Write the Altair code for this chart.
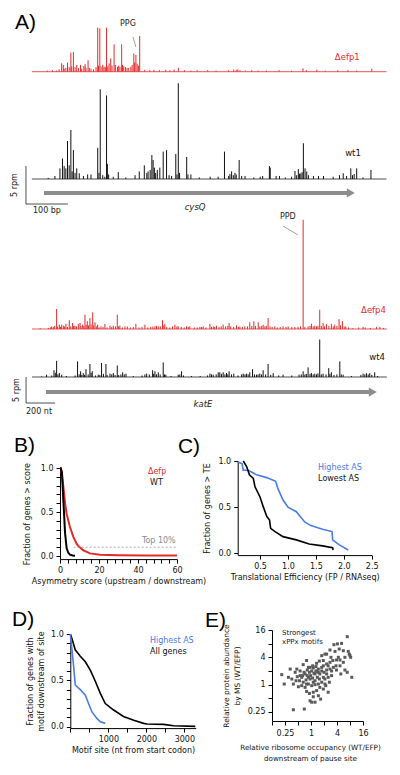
import altair as alt
import pandas as pd

FONT = "DejaVu Sans"
LETTER_FONT = "Liberation Sans"
RED = "#e32b2b"
BLUE = "#4a7be6"
GRAY = "#8d8d8d"
DOT = "#5a5a5a"

# ---------------- Panel A: ribosome density (position nt, rpm) ----------------
efp1 = [(8,0.15),(20,0.2),(30,0.15),(36,0.3),(42,1.1),(46,0.9),(48,0.4),(52,0.5),(56,1.2),(60,0.6),
        (64,2.5),(66,0.7),(70,2.6),(74,0.6),(78,0.9),(82,0.5),(87,0.9),(90,0.4),(95,0.75),(98,1.0),
        (100,0.5),(105,1.5),(108,0.5),(112,0.4),(118,0.3),(124,0.6),(128,5.8),(130,0.8),(133,5.7),(136,0.7),
        (140,0.9),(143,0.65),(146,0.6),(149,5.8),(152,0.7),(155,1.1),(159,1.75),(162,0.8),(167,3.6),(170,0.9),
        (175,0.65),(178,0.8),(181,0.65),(185,3.6),(187,0.9),(190,0.7),(194,0.6),(198,0.5),(202,0.5),(207,0.65),
        (210,0.9),(214,2.4),(216,1.2),(219,2.2),(222,1.05),(225,0.8),(228,4.7),(240,0.25),(252,0.2),(262,0.25),
        (275,0.2),(290,0.25),(300,0.2),(310,0.3),(320,0.5),(335,0.2),(350,0.15),(365,0.2),(390,0.2),(410,0.15),
        (440,0.2),(452,0.3),(458,0.25),(462,0.3),(467,0.2),(480,0.15),(495,0.2),(510,0.15),(530,0.15),(560,0.2),
        (590,0.15),(617,0.45),(625,0.2),(650,0.25),(670,0.15),(700,0.2),(724,0.2),(745,0.15),(781,0.4)]
wt1 = [(10,0.15),(26,0.4),(38,1.4),(44,2.7),(48,1.7),(52,1.4),(56,5.0),(60,1.8),(64,6.45),(67,1.0),
       (70,3.8),(74,0.8),(78,1.4),(84,0.75),(94,0.4),(104,0.6),(112,0.6),(128,4.1),(131,0.8),(134,11.8),
       (140,0.5),(145,0.3),(149,11.0),(151,2.0),(154,0.6),(165,0.3),(177,0.9),(195,0.2),(217,0.5),(227,1.0),
       (239,1.8),(245,0.8),(248,1.0),(253,1.2),(257,3.15),(260,2.5),(263,1.5),(266,0.8),(270,1.2),(276,1.5),
       (284,3.6),(292,3.8),(298,0.5),(304,0.4),(314,3.3),(317,0.6),(320,12.6),(323,0.8),(340,2.9),(343,0.6),
       (350,0.6),(370,0.2),(396,0.3),(415,0.3),(430,3.6),(440,0.4),(443,0.65),(447,1.0),(451,0.5),(455,0.8),
       (458,0.6),(465,2.5),(471,0.4),(479,0.4),(500,0.2),(515,0.3),(521,0.4),(537,1.7),(539,1.5),(553,0.4),
       (561,0.4),(575,0.2),(590,0.3),(598,1.05),(602,0.5),(606,1.3),(609,0.7),(612,0.75),(615,0.9),(618,4.7),
       (622,1.4),(626,1.0),(630,0.5),(642,0.4),(654,0.4),(666,0.4),(689,0.3),(704,0.5),(713,0.75),(721,0.4),
       (731,1.4),(735,0.5),(739,0.65),(745,1.4),(760,0.2),(779,1.2)]
efp4 = [(-40,0.15),(16,0.2),(30,0.3),(39,0.5),(50,0.4),(60,0.6),(73,3.85),(80,0.5),(92,0.83),(100,0.4),
        (108,0.83),(119,0.64),(128,0.5),(137,1.0),(148,0.4),(160,1.7),(170,0.5),(183,1.15),(190,0.6),(199,0.64),
        (210,0.5),(222,1.0),(234,1.15),(240,0.6),(252,0.83),(260,0.6),(268,2.75),(276,0.8),(284,1.5),(292,0.7),
        (302,2.1),(310,0.9),(321,3.2),(328,0.7),(337,1.3),(346,0.5),(355,0.83),(365,0.3),(378,0.5),(392,0.4),
        (405,0.96),(420,0.3),(440,0.64),(452,0.4),(463,0.64),(478,0.5),(490,2.75),(499,0.5),(508,0.64),(525,0.3),
        (543,0.5),(559,0.5),(580,0.3),(600,0.4),(618,1.0),(640,0.3),(660,0.4),(680,0.83),(700,0.3),(720,0.4),
        (735,0.5),(749,0.5),(760,0.6),(772,0.5),(786,0.5),(801,1.7),(810,0.7),(817,1.0),(830,0.4),(850,0.3),
        (870,0.5),(886,0.83),(900,0.5),(909,0.5),(930,0.4),(950,0.3),(966,0.5),(978,0.4),(989,0.5),(1020,0.3),
        (1040,0.3),(1058,0.4),(1070,0.4),(1081,0.5),(1100,0.3),(1127,1.0),(1138,0.4),(1150,0.5),(1160,0.4),(1172,0.64),
        (1190,0.4),(1205,0.5),(1218,0.83),(1235,0.5),(1250,0.6),(1259,1.15),(1270,0.5),(1290,0.4),(1310,0.7),(1322,0.4),
        (1333,0.5),(1350,0.4),(1367,0.5),(1385,0.5),(1401,1.3),(1415,0.6),(1429,1.5),(1440,0.6),(1459,1.3),(1470,0.5),
        (1483,0.6),(1493,0.83),(1505,0.5),(1515,0.6),(1527,2.1),(1540,0.5),(1555,0.4),(1573,0.5),(1590,0.3),(1610,0.4),
        (1630,0.5),(1650,0.4),(1665,0.5),(1690,0.4),(1711,0.4),(1733,0.4),(1750,0.5),(1768,21.0),(1780,0.4),(1802,0.5),
        (1815,0.6),(1825,1.0),(1837,0.5),(1848,0.64),(1860,0.5),(1870,0.6),(1882,3.7),(1893,0.6),(1905,1.15),(1915,0.5),
        (1928,0.96),(1945,0.6),(1962,1.0),(1975,0.5),(1985,0.83),(2000,0.6),(2015,1.9),(2025,0.7),(2038,1.5),(2050,0.5),
        (2061,0.5),(2080,0.3),(2110,0.2),(2150,0.3),(2180,0.4),(2195,0.3),(2230,0.2),(2272,0.4),(2295,0.4),(2320,0.2)]
wt4 = [(-30,0.1),(4,0.45),(40,0.3),(55,1.3),(64,0.8),(73,3.1),(82,0.5),(92,0.75),(108,0.45),(140,0.2),
       (200,0.3),(217,3.0),(228,0.5),(238,1.1),(246,0.4),(256,0.75),(265,0.4),(275,1.5),(290,0.5),(302,2.5),
       (310,0.8),(318,1.1),(340,0.3),(359,0.45),(370,0.4),(382,2.7),(395,0.6),(412,2.5),(420,0.4),(440,0.65),
       (452,0.5),(463,0.75),(475,0.4),(490,2.2),(500,0.4),(515,0.5),(527,0.9),(538,0.5),(550,0.65),(600,0.2),
       (660,0.3),(680,0.5),(692,0.65),(710,0.5),(733,1.3),(740,0.6),(749,1.1),(760,0.5),(772,0.9),(785,0.5),
       (806,2.8),(815,0.5),(824,0.45),(860,0.2),(909,0.45),(920,0.5),(932,1.1),(945,0.3),(1000,0.2),(1060,0.2),
       (1110,0.3),(1127,0.65),(1138,0.5),(1150,0.45),(1170,0.5),(1184,0.9),(1195,0.9),(1206,0.6),(1218,0.9),(1230,0.5),
       (1241,0.75),(1250,0.5),(1259,1.1),(1275,0.5),(1291,0.65),(1320,0.3),(1345,0.5),(1356,0.65),(1368,0.5),(1379,0.65),
       (1390,0.5),(1401,0.9),(1420,1.5),(1433,0.5),(1447,0.45),(1458,0.5),(1470,0.65),(1482,0.5),(1493,1.3),(1510,0.5),
       (1527,2.5),(1545,0.4),(1562,0.75),(1600,0.3),(1630,0.45),(1690,0.3),(1740,0.45),(1755,0.5),(1768,1.1),(1780,0.5),
       (1790,0.6),(1802,1.85),(1815,0.6),(1825,0.75),(1837,0.5),(1848,0.65),(1860,0.5),(1870,0.7),(1882,7.2),(1893,0.5),
       (1905,0.65),(1925,0.5),(1944,1.7),(1952,0.6),(1962,0.9),(1980,0.4),(2000,0.5),(2020,3.0),(2030,0.5),(2043,0.45),
       (2100,0.2),(2165,0.4),(2180,0.65),(2192,0.5),(2203,0.75),(2215,0.5),(2226,0.75),(2240,0.4),(2260,0.9),(2280,0.2)]
CYSQ_LEN = 741
KATE_LEN = 2262

# ---------------- Panel B: asymmetry score ----------------
b_efp_x = [0, 0.5, 1.0, 1.7, 2.6, 3.4, 5.1, 6.8, 8.5, 9.5, 12, 15.4, 20.5, 30, 45, 60]
b_efp_y = [1.0, 1.0, 0.93, 0.79, 0.6, 0.48, 0.33, 0.22, 0.14, 0.11, 0.065, 0.03, 0.015, 0.01, 0.007, 0.005]
b_wt_x = [0, 0.4, 1.0, 1.7, 2.6, 3.4, 4.2, 5.1, 6.5, 7.7]
b_wt_y = [1.0, 0.99, 0.95, 0.64, 0.26, 0.09, 0.04, 0.015, 0.006, 0.004]

# ---------------- Panel C: translational efficiency ----------------
c_high_x = [0.1, 0.18, 0.2, 0.29, 0.44, 0.62, 0.78, 0.82, 0.91, 1.0, 1.15, 1.3, 1.41, 1.62, 1.79, 1.8, 1.92, 2.08]
c_high_y = [0.99, 0.97, 0.9, 0.9, 0.85, 0.82, 0.78, 0.70, 0.58, 0.5, 0.45, 0.34, 0.3, 0.26, 0.235, 0.145, 0.09, 0.036]
c_low_x = [0.2, 0.26, 0.31, 0.38, 0.41, 0.5, 0.56, 0.62, 0.67, 0.69, 0.77, 0.91, 1.15, 1.38, 1.62, 1.8, 1.81]
c_low_y = [1.0, 0.94, 0.85, 0.81, 0.72, 0.61, 0.5, 0.4, 0.36, 0.27, 0.235, 0.18, 0.145, 0.1, 0.08, 0.06, 0.036]

# ---------------- Panel D: motif site ----------------
d_all_x = [0, 44, 130, 263, 395, 526, 658, 790, 920, 1140, 1400, 1670, 1930, 2017, 2456, 2720, 3290]
d_all_y = [1.0, 0.95, 0.83, 0.76, 0.7, 0.61, 0.49, 0.36, 0.25, 0.18, 0.11, 0.07, 0.036, 0.029, 0.025, 0.011, 0.004]
d_high_x = [0, 44, 88, 130, 263, 395, 480, 570, 700, 790, 920]
d_high_y = [1.0, 0.83, 0.65, 0.45, 0.40, 0.34, 0.25, 0.16, 0.09, 0.054, 0.036]

# ---------------- Panel E: occupancy vs protein abundance ----------------
e_points = [(6.9,11.4),(5.1,8.1),(4.1,7.9),(3.4,7.6),(2.75,5.8),(2.3,4.7),(2.1,4.7),(1.77,4.35),(3.6,5.4),(4.3,4.0),
            (3.9,3.5),(4.7,3.5),(3.2,3.4),(2.75,3.1),(2.3,2.85),(1.93,2.6),(1.56,3.3),(1.35,2.95),(0.66,2.76),(0.79,3.4),
            (0.95,2.4),(1.13,2.33),(7.3,5.4),(7.7,4.7),(8.0,4.35),(8.3,4.0),(6.1,2.1),(6.9,1.87),(8.8,1.45),(4.9,1.72),
            (3.8,2.6),(3.3,2.4),(2.75,2.2),(2.3,2.1),(2.0,1.87),(1.77,2.0),(1.6,1.72),(1.48,2.2),(1.3,1.97),(1.17,1.78),
            (1.04,2.0),(0.92,1.87),(0.82,2.1),(0.73,1.72),(0.64,1.58),(0.56,2.0),(0.47,2.2),(0.33,2.2),(0.21,1.66),(0.24,1.03),
            (0.36,1.33),(0.39,1.03),(0.43,1.87),(0.48,1.5),(0.54,1.22),(0.61,0.95),(0.66,1.13),(0.77,1.27),(0.87,1.45),(0.98,1.58),
            (1.09,1.4),(1.24,1.22),(1.4,1.45),(1.56,1.33),(1.77,1.13),(2.1,1.33),(2.5,1.45),(3.0,1.58),(2.66,1.13),(2.2,0.95),
            (2.5,0.68),(1.93,0.8),(1.6,0.87),(1.35,0.74),(1.13,0.68),(0.92,0.64),(0.79,0.71),(0.73,0.87),(0.95,0.44),(1.04,0.41),
            (1.24,0.41),(1.48,0.57),(1.67,0.48),(1.13,0.54),(0.39,0.28),(0.7,0.29),(0.87,1.03),(1.04,0.95),(1.24,1.0),(0.79,1.03),
            (0.61,1.45),(0.69,1.87),(0.87,2.4),(1.09,2.6),(1.3,2.5),(1.48,1.87),(1.93,1.45),(2.3,1.72),(1.93,3.4),(2.9,4.0),
            (5.6,5.6),(4.5,6.1),(0.51,0.9),(0.45,1.22),(0.3,1.45),(1.24,1.72),(0.95,1.33),(1.13,1.13),(1.48,1.03),(3.9,2.1),
            (4.7,2.6),(5.6,3.1),(6.1,4.0),(0.56,1.58),(1.77,2.4),(2.5,2.6),(3.0,2.0),(0.82,1.58),(1.35,2.0),(2.1,1.03)]

W, H = 384, 759


def sc(domain, rng, log=False):
    if log:
        return alt.Scale(type="log", base=2, domain=domain, range=rng, nice=False)
    return alt.Scale(domain=domain, range=rng, nice=False, zero=False)


# scales: data domains mapped onto the regions of the figure
SX_CYS = sc([0, CYSQ_LEN], [36, 347])
SY_EFP1 = sc([0, 5], [63.7, 25.7])
SY_WT1 = sc([0, 5], [171, 133])
SX_KAT = sc([0, KATE_LEN], [38, 367])
SY_EFP4 = sc([0, 5], [321, 295])
SY_WT4 = sc([0, 5], [369, 343])
SX_B = sc([0, 60], [52, 169])
SY_B = sc([-0.035, 1], [551.1, 460])
SX_C = sc([0.1, 2.5], [229.7, 363.7])
SY_C = sc([-0.02, 1], [547.1, 453])
SX_D = sc([0, 3300], [62.3, 187.7])
SY_D = sc([-0.015, 1], [720.1, 626])
SX_E = sc([0.125, 16], [264, 355], log=True)
SY_E = sc([0.158, 16], [713, 622], log=True)


def bars(pts, sx, sy, color, w=1.0):
    df = pd.DataFrame(pts, columns=["pos", "val"])
    df["base"] = 0.0
    return alt.Chart(df).mark_rule(color=color, strokeWidth=w).encode(
        x=alt.X("pos:Q", scale=sx, axis=None),
        y=alt.Y("val:Q", scale=sy, axis=None), y2="base:Q")


def seg(rows, sx, sy, **mk):
    df = pd.DataFrame(rows, columns=["x", "x2", "y", "y2"])
    return alt.Chart(df).mark_rule(**mk).encode(
        x=alt.X("x:Q", scale=sx, axis=None), x2="x2:Q",
        y=alt.Y("y:Q", scale=sy, axis=None), y2="y2:Q")


def lab(rows, sx, sy, **mk):
    df = pd.DataFrame(rows, columns=["x", "y", "t"])
    mk.setdefault("font", FONT)
    mk.setdefault("baseline", "middle")
    return alt.Chart(df).mark_text(**mk).encode(
        x=alt.X("x:Q", scale=sx, axis=None),
        y=alt.Y("y:Q", scale=sy, axis=None), text="t:N")


def head(x, y, sx, sy):
    df = pd.DataFrame({"x": [x], "y": [y]})
    return alt.Chart(df).mark_point(shape="triangle-right", filled=True, color=GRAY,
                                    size=85, opacity=1, strokeWidth=0).encode(
        x=alt.X("x:Q", scale=sx, axis=None), y=alt.Y("y:Q", scale=sy, axis=None))


def curve(xs, ys, sx, sy, color, w, xaxis=None, yaxis=None, dash=None):
    df = pd.DataFrame({"x": xs, "y": ys, "o": list(range(len(xs)))})
    mk = dict(color=color, strokeWidth=w)
    if dash:
        mk["strokeDash"] = dash
    return alt.Chart(df).mark_line(**mk).encode(
        x=alt.X("x:Q", scale=sx, axis=xaxis),
        y=alt.Y("y:Q", scale=sy, axis=yaxis), order="o:Q")


def ax(orient, offset, values, title, expr=None, fmt=None, tpad=3, lpad=3, **extra):
    kw = dict(orient=orient, offset=offset, values=values, title=title,
              titlePadding=tpad, labelPadding=lpad, grid=False, labelFlush=False,
              labelOverlap=False, tickSize=4)
    if expr:
        kw["labelExpr"] = expr
    if fmt:
        kw["format"] = fmt
    kw.update(extra)
    return alt.Axis(**kw)


tenths = [i / 10 for i in range(11)]
Y01 = "(datum.value == 0 || datum.value == 0.5 || datum.value == 1) ? format(datum.value, '.1f') : ''"
LOGLAB = "(datum.value == 0.25 || datum.value == 1 || datum.value == 4 || datum.value == 16) ? toString(datum.value) : ''"

layers = []

# ---------- Panel A : cysQ ----------
layers += [
    seg([(-29, 816, 0, 0)], SX_CYS, SY_EFP1, color=RED, strokeWidth=0.8),
    bars(efp1, SX_CYS, SY_EFP1, RED),
    seg([(-29, 816, 0, 0)], SX_CYS, SY_WT1, color="#222", strokeWidth=0.8),
    bars(wt1, SX_CYS, SY_WT1, "#111"),
    seg([(212, 219, 4.57, 3.25)], SX_CYS, SY_EFP1, color="#888", strokeWidth=0.8),
    lab([(200, 6.3, "PPG")], SX_CYS, SY_EFP1, fontSize=8, color="#222"),
    lab([(693, 1.93, "Δefp1")], SX_CYS, SY_EFP1, fontSize=8.5, color=RED, align="left"),
    lab([(755, 3.4, "wt1")], SX_CYS, SY_WT1, fontSize=8.5, color="#111", align="right"),
    lab([(-69, 6.4, "A)")], SX_CYS, SY_EFP1, fontSize=21, font=LETTER_FONT, align="left"),
    seg([(-43, -43, -3.29, 1.71), (-43, 57, -3.29, -3.29)], SX_CYS, SY_WT1, color="#222", strokeWidth=0.8),
    lab([(-70, -0.79, "5 rpm")], SX_CYS, SY_WT1, fontSize=8, angle=270, color="#222"),
    lab([(7, -4.2, "100 bp")], SX_CYS, SY_WT1, fontSize=8, color="#222"),
    seg([(0, 724, -1.84, -1.84)], SX_CYS, SY_WT1, color=GRAY, strokeWidth=4),
    head(731, -1.84, SX_CYS, SY_WT1),
    lab([(360, -3.68, "cysQ")], SX_CYS, SY_WT1, fontSize=8.5, fontStyle="italic", color="#222"),
]

# ---------- Panel A : katE ----------
layers += [
    seg([(-96, 2343, 0, 0)], SX_KAT, SY_EFP4, color=RED, strokeWidth=0.8),
    bars(efp4, SX_KAT, SY_EFP4, RED),
    seg([(-96, 2343, 0, 0)], SX_KAT, SY_WT4, color="#222", strokeWidth=0.8),
    bars(wt4, SX_KAT, SY_WT4, "#111"),
    seg([(1629, 1732, 19.8, 18.1)], SX_KAT, SY_EFP4, color="#888", strokeWidth=0.8),
    lab([(1663, 21.5, "PPD")], SX_KAT, SY_EFP4, fontSize=8, color="#222"),
    lab([(2337, 3.65, "Δefp4")], SX_KAT, SY_EFP4, fontSize=8.5, color=RED, align="right"),
    lab([(2330, 3.85, "wt4")], SX_KAT, SY_WT4, fontSize=8.5, color="#111", align="right"),
    seg([(-137, -137, -5.0, 0), (-137, 63, -5.0, -5.0)], SX_KAT, SY_WT4, color="#222", strokeWidth=0.8),
    lab([(-199, -2.5, "5 rpm")], SX_KAT, SY_WT4, fontSize=8, angle=270, color="#222"),
    lab([(-48, -6.7, "200 nt")], SX_KAT, SY_WT4, fontSize=8, color="#222"),
    seg([(0, 2225, -2.9, -2.9)], SX_KAT, SY_WT4, color=GRAY, strokeWidth=4),
    head(2247, -2.9, SX_KAT, SY_WT4),
    lab([(1079, -5.2, "katE")], SX_KAT, SY_WT4, fontSize=8.5, fontStyle="italic", color="#222"),
]

# ---------- Panel B ----------
layers += [
    curve(b_efp_x, b_efp_y, SX_B, SY_B, RED, 2,
          xaxis=ax("bottom", 551.1 - H, list(range(0, 61, 4)), "Asymmetry score (upstream / downstream)",
                   expr="datum.value % 20 == 0 ? datum.label : ''", tpad=3, lpad=3),
          yaxis=ax("left", -52, tenths, "Fraction of genes > score", expr=Y01, tpad=9, lpad=3)),
    curve(b_wt_x, b_wt_y, SX_B, SY_B, "#000", 2),
    curve([7, 60], [0.1, 0.1], SX_B, SY_B, "#9a9a9a", 0.8, dash=[2, 2]),
    lab([(45.1, 0.955, "Δefp")], SX_B, SY_B, fontSize=8, color=RED, align="left"),
    lab([(46.2, 0.83, "WT")], SX_B, SY_B, fontSize=8, color="#111", align="left"),
    lab([(42, 0.17, "Top 10%")], SX_B, SY_B, fontSize=8, color="#8a8a8a", align="left"),
    lab([(-23.6, 1.25, "B)")], SX_B, SY_B, fontSize=21, font=LETTER_FONT, align="left"),
]

# ---------- Panel C ----------
layers += [
    curve(c_high_x, c_high_y, SX_C, SY_C, BLUE, 1.6,
          xaxis=ax("bottom", 547.1 - H, [0.5, 1.0, 1.5, 2.0, 2.5], "Translational Efficiency (FP / RNAseq)",
                   fmt=".1f", tpad=3, lpad=3),
          yaxis=ax("left", -229.7, [0, 0.5, 1.0], "Fraction of genes > TE", fmt=".1f", tpad=6, lpad=3)),
    curve(c_low_x, c_low_y, SX_C, SY_C, "#000", 1.6),
    lab([(1.54, 0.92, "Highest AS")], SX_C, SY_C, fontSize=8, color=BLUE, align="left"),
    lab([(1.54, 0.80, "Lowest AS")], SX_C, SY_C, fontSize=8, color="#111", align="left"),
    lab([(-0.97, 1.15, "C)")], SX_C, SY_C, fontSize=21, font=LETTER_FONT, align="left"),
]

# ---------- Panel D ----------
layers += [
    curve(d_all_x, d_all_y, SX_D, SY_D, "#000", 1.6,
          xaxis=ax("bottom", 720.1 - H, list(range(0, 3301, 500)), "Motif site (nt from start codon)",
                   expr="(datum.value % 1000 == 0 && datum.value > 0) ? format(datum.value, 'd') : ''", tpad=3, lpad=3),
          yaxis=ax("left", -62.3, tenths, ["Fraction of genes with", "motif downstream of site"],
                   expr=Y01, tpad=5, lpad=3)),
    curve(d_high_x, d_high_y, SX_D, SY_D, BLUE, 1.6),
    lab([(2097, 0.925, "Highest AS")], SX_D, SY_D, fontSize=8, color=BLUE, align="left"),
    lab([(2097, 0.805, "All genes")], SX_D, SY_D, fontSize=8, color="#111", align="left"),
    lab([(-1534, 1.15, "D)")], SX_D, SY_D, fontSize=21, font=LETTER_FONT, align="left"),
]

# ---------- Panel E ----------
e_df = pd.DataFrame(e_points, columns=["occ", "abund"])
layers += [
    alt.Chart(e_df).mark_square(size=9, color=DOT, opacity=1).encode(
        x=alt.X("occ:Q", scale=SX_E,
                axis=ax("bottom", 713 - H, [0.125, 0.25, 0.5, 1, 2, 4, 8, 16],
                        ["Relative ribosome occupancy (WT/EFP)", "downstream of pause site"],
                        expr=LOGLAB, tpad=6, lpad=4, titleFontSize=7.2, titleX=302, titleY=22,
                        titleBaseline="top", titleAlign="center")),
        y=alt.Y("abund:Q", scale=SY_E,
                axis=ax("left", -264, [0.25, 0.5, 1, 2, 4, 8, 16],
                        ["Relative protein abundance", "by MS (WT/EFP)"], expr=LOGLAB, tpad=6, lpad=3,
                        titleFontSize=7.5))),
    lab([(0.213, 13.9, "Strongest"), (0.213, 8.86, "xPPx motifs")], SX_E, SY_E, fontSize=7, color="#222", align="left"),
    lab([(0.0035, 25.7, "E)")], SX_E, SY_E, fontSize=21, font=LETTER_FONT, align="left"),
]

chart = alt.layer(*layers).resolve_scale(x="independent", y="independent").properties(
    width=W, height=H, padding=0, autosize=alt.AutoSizeParams(type="none")
).configure_view(stroke=None).configure_axis(
    labelFont=FONT, titleFont=FONT, labelFontSize=8, titleFontSize=8, titleFontWeight="normal",
    domainColor="#000", tickColor="#000", labelColor="#111", titleColor="#111", domainWidth=1, tickWidth=1,
    titleLineHeight=11
)

chart.save("out.html", embed_options={"renderer": "svg", "actions": False})
